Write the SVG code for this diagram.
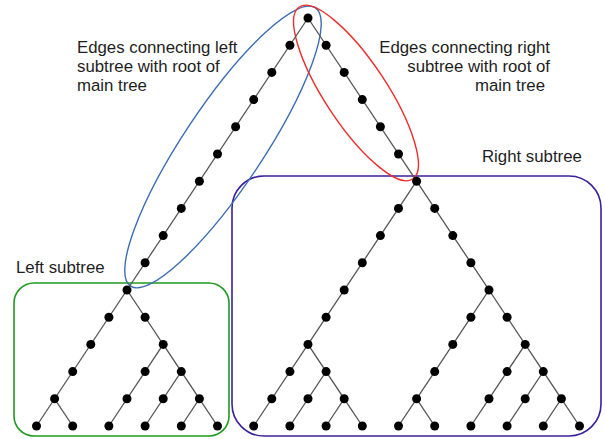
<svg xmlns="http://www.w3.org/2000/svg" width="605" height="439" viewBox="0 0 605 439">
<style>
.lbl{font-family:"Liberation Sans",Arial,sans-serif;font-size:16.8px;fill:#1e1e1e}
.edge{fill:none;stroke:#555;stroke-width:1.3}
.n{fill:#000}
.box{fill:none;stroke-width:1.6}
</style>
<rect width="605" height="439" fill="#fff"/>
<g id="annotations">
<rect id="left-box" class="box" x="14" y="283" width="215" height="153" rx="20" stroke="#1f9a1f"/>
<rect id="right-box" class="box" x="232" y="176" width="369" height="260" rx="32" stroke="#3b1f9e"/>
<ellipse id="blue-ellipse" cx="223" cy="147" rx="167" ry="40" transform="rotate(-56.4 223 147)" fill="none" stroke="#3c6db3" stroke-width="1.4"/>
<ellipse id="red-ellipse" cx="356" cy="93" rx="103" ry="31" transform="rotate(56.6 356 93)" fill="none" stroke="#ee2c2c" stroke-width="1.4"/>
</g>
<g id="labels">
<text class="lbl" x="77" y="53">Edges connecting left</text>
<text class="lbl" x="77" y="72">subtree with root of</text>
<text class="lbl" x="77" y="90.5">main tree</text>
<text class="lbl" x="550" y="53" text-anchor="end">Edges connecting right</text>
<text class="lbl" x="550" y="72" text-anchor="end">subtree with root of</text>
<text class="lbl" x="545" y="90.5" text-anchor="end">main tree</text>
<text class="lbl" x="482" y="162">Right subtree</text>
<text class="lbl" x="16" y="273">Left subtree</text>
</g>
<g id="connectors" class="edge">
<path d="M308,18 L127,290"/>
<path d="M308,18 L416.6,181.2"/>
<path d="M416.6,181.2 L308,344.4 L253.7,426"/>
<path d="M308,344.4 L326.1,371.6 L289.9,426"/>
<path d="M326.1,371.6 L344.2,398.8 L326.1,426"/>
<path d="M344.2,398.8 L362.3,426"/>
<path d="M416.6,181.2 L489,290 L416.6,398.8 L398.5,426"/>
<path d="M416.6,398.8 L434.7,426"/>
<path d="M489,290 L525.2,344.4 L470.9,426"/>
<path d="M525.2,344.4 L543.3,371.6 L507.1,426"/>
<path d="M543.3,371.6 L561.4,398.8 L543.3,426"/>
<path d="M561.4,398.8 L579.5,426"/>
<path d="M127,290 L36.5,426"/>
<path d="M54.6,398.8 L72.7,426"/>
<path d="M127,290 L163.2,344.4 L108.9,426"/>
<path d="M163.2,344.4 L181.3,371.6 L145.1,426"/>
<path d="M181.3,371.6 L199.4,398.8 L181.3,426"/>
<path d="M199.4,398.8 L217.5,426"/>
</g>
<g id="nodes">
<g id="root"><circle class="n" cx="308" cy="18" r="4.5"/></g>
<g id="lc1"><circle class="n" cx="289.9" cy="45.2" r="4.5"/></g>
<g id="lc2"><circle class="n" cx="271.8" cy="72.4" r="4.5"/></g>
<g id="lc3"><circle class="n" cx="253.7" cy="99.6" r="4.5"/></g>
<g id="lc4"><circle class="n" cx="235.6" cy="126.8" r="4.5"/></g>
<g id="lc5"><circle class="n" cx="217.5" cy="154" r="4.5"/></g>
<g id="lc6"><circle class="n" cx="199.4" cy="181.2" r="4.5"/></g>
<g id="lc7"><circle class="n" cx="181.3" cy="208.4" r="4.5"/></g>
<g id="lc8"><circle class="n" cx="163.2" cy="235.6" r="4.5"/></g>
<g id="lc9"><circle class="n" cx="145.1" cy="262.8" r="4.5"/></g>
<g id="rc1"><circle class="n" cx="326.1" cy="45.2" r="4.5"/></g>
<g id="rc2"><circle class="n" cx="344.2" cy="72.4" r="4.5"/></g>
<g id="rc3"><circle class="n" cx="362.3" cy="99.6" r="4.5"/></g>
<g id="rc4"><circle class="n" cx="380.4" cy="126.8" r="4.5"/></g>
<g id="rc5"><circle class="n" cx="398.5" cy="154" r="4.5"/></g>
<g id="r0"><circle class="n" cx="416.6" cy="181.2" r="4.5"/></g>
<g id="r1"><circle class="n" cx="398.5" cy="208.4" r="4.5"/></g>
<g id="r2"><circle class="n" cx="380.4" cy="235.6" r="4.5"/></g>
<g id="r3"><circle class="n" cx="362.3" cy="262.8" r="4.5"/></g>
<g id="r4"><circle class="n" cx="344.2" cy="290" r="4.5"/></g>
<g id="r5"><circle class="n" cx="326.1" cy="317.2" r="4.5"/></g>
<g id="r6"><circle class="n" cx="308" cy="344.4" r="4.5"/></g>
<g id="r7"><circle class="n" cx="289.9" cy="371.6" r="4.5"/></g>
<g id="r8"><circle class="n" cx="271.8" cy="398.8" r="4.5"/></g>
<g id="r9"><circle class="n" cx="253.7" cy="426" r="4.5"/></g>
<g id="r10"><circle class="n" cx="326.1" cy="371.6" r="4.5"/></g>
<g id="r11"><circle class="n" cx="308" cy="398.8" r="4.5"/></g>
<g id="r12"><circle class="n" cx="289.9" cy="426" r="4.5"/></g>
<g id="r13"><circle class="n" cx="344.2" cy="398.8" r="4.5"/></g>
<g id="r14"><circle class="n" cx="326.1" cy="426" r="4.5"/></g>
<g id="r15"><circle class="n" cx="362.3" cy="426" r="4.5"/></g>
<g id="r16"><circle class="n" cx="434.7" cy="208.4" r="4.5"/></g>
<g id="r17"><circle class="n" cx="452.8" cy="235.6" r="4.5"/></g>
<g id="r18"><circle class="n" cx="470.9" cy="262.8" r="4.5"/></g>
<g id="r19"><circle class="n" cx="489" cy="290" r="4.5"/></g>
<g id="r20"><circle class="n" cx="470.9" cy="317.2" r="4.5"/></g>
<g id="r21"><circle class="n" cx="452.8" cy="344.4" r="4.5"/></g>
<g id="r22"><circle class="n" cx="434.7" cy="371.6" r="4.5"/></g>
<g id="r23"><circle class="n" cx="416.6" cy="398.8" r="4.5"/></g>
<g id="r24"><circle class="n" cx="398.5" cy="426" r="4.5"/></g>
<g id="r25"><circle class="n" cx="434.7" cy="426" r="4.5"/></g>
<g id="r26"><circle class="n" cx="507.1" cy="317.2" r="4.5"/></g>
<g id="r27"><circle class="n" cx="525.2" cy="344.4" r="4.5"/></g>
<g id="r28"><circle class="n" cx="507.1" cy="371.6" r="4.5"/></g>
<g id="r29"><circle class="n" cx="489" cy="398.8" r="4.5"/></g>
<g id="r30"><circle class="n" cx="470.9" cy="426" r="4.5"/></g>
<g id="r31"><circle class="n" cx="543.3" cy="371.6" r="4.5"/></g>
<g id="r32"><circle class="n" cx="525.2" cy="398.8" r="4.5"/></g>
<g id="r33"><circle class="n" cx="507.1" cy="426" r="4.5"/></g>
<g id="r34"><circle class="n" cx="561.4" cy="398.8" r="4.5"/></g>
<g id="r35"><circle class="n" cx="543.3" cy="426" r="4.5"/></g>
<g id="r36"><circle class="n" cx="579.5" cy="426" r="4.5"/></g>
<g id="l0"><circle class="n" cx="127" cy="290" r="4.5"/></g>
<g id="l1"><circle class="n" cx="108.9" cy="317.2" r="4.5"/></g>
<g id="l2"><circle class="n" cx="90.8" cy="344.4" r="4.5"/></g>
<g id="l3"><circle class="n" cx="72.7" cy="371.6" r="4.5"/></g>
<g id="l4"><circle class="n" cx="54.6" cy="398.8" r="4.5"/></g>
<g id="l5"><circle class="n" cx="36.5" cy="426" r="4.5"/></g>
<g id="l6"><circle class="n" cx="72.7" cy="426" r="4.5"/></g>
<g id="l7"><circle class="n" cx="145.1" cy="317.2" r="4.5"/></g>
<g id="l8"><circle class="n" cx="163.2" cy="344.4" r="4.5"/></g>
<g id="l9"><circle class="n" cx="145.1" cy="371.6" r="4.5"/></g>
<g id="l10"><circle class="n" cx="127" cy="398.8" r="4.5"/></g>
<g id="l11"><circle class="n" cx="108.9" cy="426" r="4.5"/></g>
<g id="l12"><circle class="n" cx="181.3" cy="371.6" r="4.5"/></g>
<g id="l13"><circle class="n" cx="163.2" cy="398.8" r="4.5"/></g>
<g id="l14"><circle class="n" cx="145.1" cy="426" r="4.5"/></g>
<g id="l15"><circle class="n" cx="199.4" cy="398.8" r="4.5"/></g>
<g id="l16"><circle class="n" cx="181.3" cy="426" r="4.5"/></g>
<g id="l17"><circle class="n" cx="217.5" cy="426" r="4.5"/></g>
</g>
</svg>
